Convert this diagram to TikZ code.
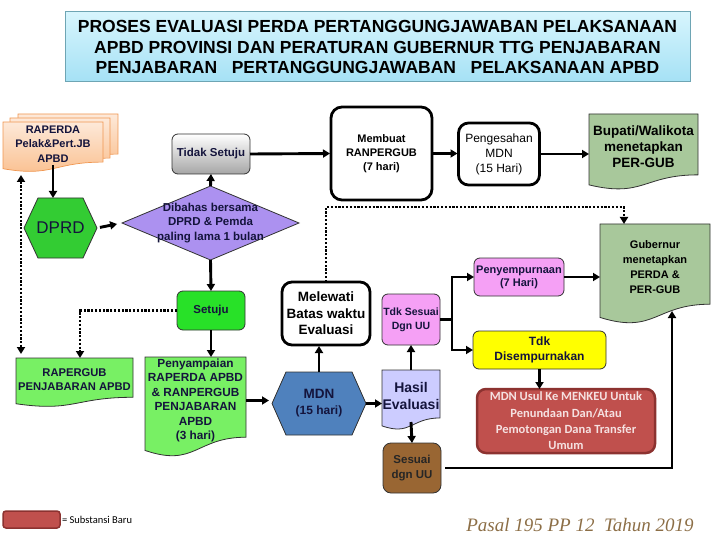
\documentclass[tikz,border=0pt]{standalone}
\usepackage{fontspec}
\setmainfont{Liberation Sans}
\newfontfamily\calib{Carlito}
\newfontfamily\serifit{Liberation Serif}
\usetikzlibrary{arrows.meta,calc,backgrounds}
\definecolor{txt}{RGB}{20,20,60}
\definecolor{edge}{RGB}{50,50,50}
\definecolor{ttop}{RGB}{215,245,253}
\definecolor{tbot}{RGB}{165,225,245}
\definecolor{tedge}{RGB}{110,165,180}
\definecolor{orgtop}{RGB}{253,233,217}
\definecolor{orgbot}{RGB}{250,190,140}
\definecolor{orgedge}{RGB}{240,150,80}
\definecolor{dgreen}{RGB}{51,204,51}
\definecolor{sgreen}{RGB}{40,225,40}
\definecolor{lgreen}{RGB}{120,240,100}
\definecolor{sage}{RGB}{168,200,155}
\definecolor{lav}{RGB}{172,145,240}
\definecolor{pinkv}{RGB}{245,160,245}
\definecolor{yel}{RGB}{255,255,0}
\definecolor{redb}{RGB}{192,80,77}
\definecolor{redd}{RGB}{140,50,48}
\definecolor{blueh}{RGB}{79,129,189}
\definecolor{lavl}{RGB}{204,204,255}
\definecolor{brn}{RGB}{153,102,51}
\definecolor{pasal}{RGB}{140,110,70}
\definecolor{usultxt}{RGB}{245,225,225}
% document shape: node, dx, dy, options
\newcommand\docshape[4]{%
\path[#4] ($(#1.north west)+(#2,#3)$) -- ($(#1.north east)+(#2,#3)$) -- ($(#1.north east)!0.922!(#1.south east)+(#2,#3)$) .. controls ($(#1.north)!0.922!(#1.south)+(#2,#3)$) and ($(#1.north)!1.272!(#1.south)+(#2,#3)$) .. ($(#1.north west)!1.074!(#1.south west)+(#2,#3)$) -- cycle;}
% hexagon: node, inset, options
\newcommand\hexshape[3]{%
\path[#3] (#1.west) -- ($(#1.north west)+(#2,0)$) -- ($(#1.north east)-(#2,0)$) -- (#1.east) -- ($(#1.south east)-(#2,0)$) -- ($(#1.south west)+(#2,0)$) -- cycle;}
\begin{document}
\begin{tikzpicture}[x=1pt,y=-1pt,
  base/.style={inner sep=0pt, outer sep=0pt, align=center, text=txt},
  rbox/.style={base, rounded corners=6pt, draw=edge, line width=0.8pt},
  thickbox/.style={base, rounded corners=11pt, draw=black, line width=2.8pt, fill=white, text=black},
  arr/.style={line width=2.9pt, -{Triangle[length=7pt,width=8pt]}},
  dotl/.style={line width=2.9pt, dash pattern=on 2.2pt off 1.6pt},
  dtip/.style={-{Triangle[length=7pt,width=8pt]}},
  shp/.style={draw=edge, line width=0.8pt}]
\useasboundingbox (0,0) rectangle (720,540);

% title
\node[base, text=black, top color=ttop, bottom color=tbot, draw=tedge, line width=1pt,
  minimum width=625pt, minimum height=70pt,
  font=\bfseries\fontsize{17.5}{20.5}\selectfont] (title) at (377.5,47)
  {PROSES EVALUASI PERDA PERTANGGUNGJAWABAN PELAKSANAAN\\
   APBD PROVINSI DAN PERATURAN GUBERNUR TTG PENJABARAN\\
   PENJABARAN\ \ \ PERTANGGUNGJAWABAN\ \ \ PELAKSANAAN APBD};

% nodes
\node[base, minimum width=100pt, minimum height=43.5pt, font=\bfseries\fontsize{11}{14.5}\selectfont] (raperda) at (53,143.75) {RAPERDA\\Pelak\&Pert.JB\\APBD};
\node[base, minimum width=73pt, minimum height=60pt, font=\fontsize{17}{20}\selectfont] (dprd) at (60.5,228) {DPRD};
\node[base, minimum width=177pt, minimum height=74pt, font=\bfseries\fontsize{11.5}{14.5}\selectfont] (diam) at (210.5,223) {Dibahas bersama\\DPRD \& Pemda\\paling lama 1 bulan};
\node[rbox, top color=white, bottom color=black!35, minimum width=78pt, minimum height=40pt, font=\bfseries\fontsize{11.5}{14}\selectfont] (tidak) at (211,154) {Tidak Setuju};
\node[thickbox, minimum width=101pt, minimum height=93pt, font=\bfseries\fontsize{11}{14}\selectfont] (membuat) at (381.5,153.5) {Membuat\\RANPERGUB\\(7 hari)};
\node[thickbox, rounded corners=10pt, minimum width=81pt, minimum height=62pt, font=\fontsize{12}{15}\selectfont] (pengesahan) at (499,154) {Pengesahan\\MDN\\(15 Hari)};
\node[base, text=black, minimum width=109pt, minimum height=66pt, font=\bfseries\fontsize{13.5}{16}\selectfont] (bupati) at (643.5,147) {Bupati/Walikota\\menetapkan\\PER-GUB};
\node[base, text=black, minimum width=110pt, minimum height=87pt, font=\bfseries\fontsize{11}{15}\selectfont] (gubernur) at (655,267.5) {Gubernur\\menetapkan\\PERDA \&\\PER-GUB};
\node[rbox, fill=pinkv, minimum width=90pt, minimum height=38pt, font=\bfseries\fontsize{11}{13}\selectfont] (penyemp) at (519,277) {Penyempurnaan\\(7 Hari)};
\node[thickbox, rounded corners=10pt, minimum width=88pt, minimum height=63pt, font=\bfseries\fontsize{13.5}{16.5}\selectfont] (melewati) at (326,313.5) {Melewati\\Batas waktu\\Evaluasi};
\node[rbox, fill=pinkv, minimum width=58pt, minimum height=51pt, font=\bfseries\fontsize{10.5}{14}\selectfont] (tdks) at (411,319.5) {Tdk Sesuai\\Dgn UU};
\node[rbox, fill=yel, minimum width=133pt, minimum height=38pt, font=\bfseries\fontsize{12}{15}\selectfont] (tdkdis) at (539.5,350) {Tdk\\Disempurnakan};
\node[rbox, fill=redb, draw=redd, line width=2.5pt, rounded corners=9pt, text=usultxt, minimum width=178pt, minimum height=64pt, font=\calib\bfseries\fontsize{12.5}{16.3}\selectfont] (mdnusul) at (566,421) {MDN Usul Ke MENKEU Untuk\\Penundaan Dan/Atau\\Pemotongan Dana Transfer\\Umum};
\node[base, minimum width=94pt, minimum height=63pt, font=\bfseries\fontsize{12}{16}\selectfont] (mdnhex) at (319,403.5) {{\fontsize{13.5}{16}\selectfont MDN}\\(15 hari)};
\node[base, minimum width=58pt, minimum height=52pt, font=\bfseries\fontsize{14}{17}\selectfont] (hasil) at (411,396) {Hasil\\Evaluasi};
\node[rbox, fill=brn, rounded corners=8pt, text=black!85, minimum width=58pt, minimum height=50pt, font=\bfseries\fontsize{11.5}{15}\selectfont] (sesuai) at (412,468) {Sesuai\\dgn UU};
\node[rbox, fill=sgreen, minimum width=68pt, minimum height=39pt, font=\bfseries\fontsize{11.5}{14}\selectfont] (setuju) at (211,310.5) {Setuju};
\node[base, minimum width=117pt, minimum height=42.6pt, font=\bfseries\fontsize{11.2}{14}\selectfont] (rapergub) at (74.5,379.3) {RAPERGUB\\PENJABARAN APBD};
\node[base, minimum width=101pt, minimum height=87pt, font=\bfseries\fontsize{11.8}{14.4}\selectfont] (penyampaian) at (195.5,400.5) {Penyampaian\\RAPERDA APBD\\\& RANPERGUB\\PENJABARAN\\APBD\\(3 hari)};

% legend and source
\node[rbox, fill=redb, draw=redd, line width=1.5pt, rounded corners=3pt, minimum width=57pt, minimum height=17pt] (leg) at (31.5,519.5) {};
\node[base, anchor=west, text=black, font=\calib\fontsize{10.5}{12}\selectfont] (legt) at (62,519.5) {= Substansi Baru};
\node[base, text=pasal, font=\serifit\itshape\fontsize{19}{22}\selectfont] (pasal) at (580,525) {Pasal 195 PP 12\ \ Tahun 2019};

% shapes behind text
\begin{scope}[on background layer]
\docshape{raperda}{15}{-8}{top color=orgtop, bottom color=orgbot, draw=orgedge, line width=0.7pt}
\docshape{raperda}{7}{-4}{top color=orgtop, bottom color=orgbot, draw=orgedge, line width=0.7pt}
\docshape{raperda}{0}{0}{top color=orgtop, bottom color=orgbot, draw=orgedge, line width=0.7pt}
\hexshape{dprd}{14}{shp, fill=dgreen}
\path[shp, fill=lav] (diam.west) -- (diam.north) -- (diam.east) -- (diam.south) -- cycle;
\docshape{bupati}{0}{0}{shp, fill=sage}
\docshape{gubernur}{0}{0}{shp, fill=sage}
\hexshape{mdnhex}{14}{shp, fill=blueh}
\docshape{hasil}{0}{0}{shp, fill=lavl}
\docshape{rapergub}{0}{0}{shp, fill=lgreen}
\docshape{penyampaian}{0}{0}{shp, fill=lgreen}
\end{scope}

% connectors
\coordinate (dc) at (624,207);
\coordinate (db) at (80,310.5);
\coordinate (dl1) at (21,175);
\coordinate (dl2) at (21,354);
\coordinate (br) at (452,319.5);
\coordinate (sc) at (672,468);

\draw[arr] (raperda.south) -- (raperda.south |- dprd.north);
\draw[arr, shorten <=3pt, shorten >=5pt] (dprd.east) -- (diam.west);
\draw[arr] (diam.north) -- (tidak.south);
\draw[arr, shorten >=1pt] (tidak.east) -- (membuat.west);
\draw[arr, shorten <=1pt, shorten >=1pt] (membuat.east) -- (membuat.east -| pengesahan.west);
\draw[arr, shorten <=1pt] (pengesahan.east) -- (pengesahan.east -| bupati.west);
\draw[dotl, dtip] (melewati.north) |- (dc) -- (dc |- gubernur.north);
\draw[arr] (diam.south) -- (setuju.north);
\draw[arr] (setuju.south) -- (setuju.south |- penyampaian.north);
\draw[dotl, dtip] (setuju.west) -- (db) -- (db |- rapergub.north);
\draw[dotl, {Triangle[length=7pt,width=8pt]}-{Triangle[length=7pt,width=8pt]}] (dl1) -- (dl2);
\draw[arr, shorten >=3pt] (penyampaian.east) -- (penyampaian.east -| mdnhex.west);
\draw[arr, shorten >=1pt] (mdnhex.north) -- (mdnhex.north |- melewati.south);
\draw[arr] (mdnhex.east) -- (mdnhex.east -| hasil.west);
\draw[arr] (hasil.north) -- (tdks.south);
\draw[arr] (hasil.south) -- (sesuai.north);
\draw[line width=2.9pt] (tdks.east) -- (br);
\draw[arr] (br) |- (penyemp.west);
\draw[arr] (br) |- (tdkdis.west);
\draw[arr] (penyemp.east) -- (penyemp.east -| gubernur.west);
\draw[arr] (tdkdis.south) -- (tdkdis.south |- mdnusul.north);
\draw[arr, shorten <=4pt] (sesuai.east) -- (sc) -- (sc |- gubernur.south);
\end{tikzpicture}
\end{document}
